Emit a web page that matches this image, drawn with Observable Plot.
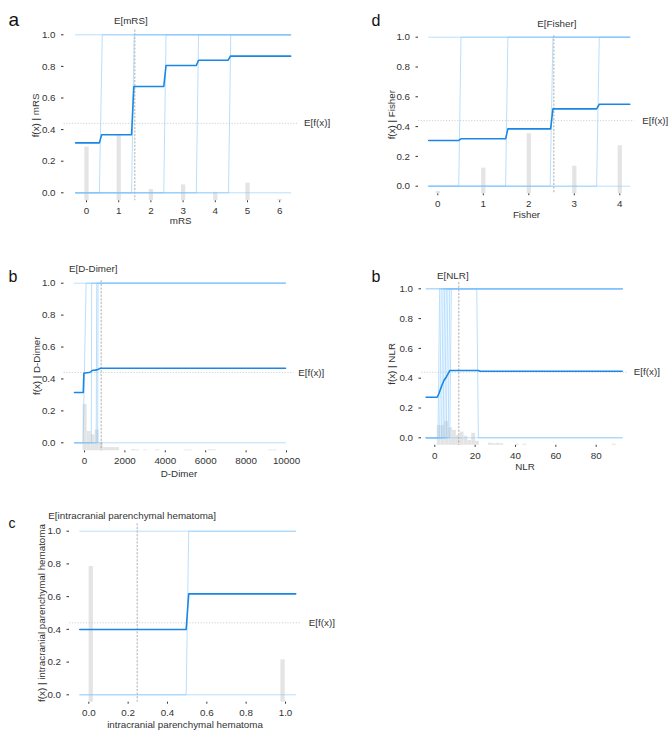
<!DOCTYPE html>
<html><head><meta charset="utf-8">
<script src="https://cdn.jsdelivr.net/npm/d3@7"></script>
<script src="https://cdn.jsdelivr.net/npm/@observablehq/plot@0.6"></script>
<style>
html,body{margin:0;padding:0;background:#fff;}
#root{position:relative;width:669px;height:748px;overflow:hidden;font-family:"Liberation Sans",Arial,sans-serif;}
.panel{position:absolute;}
</style></head><body><div id="root"></div>
<script>
// ---------- shared ----------
const yTicks = [0, 0.2, 0.4, 0.6, 0.8, 1.0];
const expectedValue = 0.44;          // E[f(x)]

// ---------- panel a : mRS ----------
const mrsXTicks = [0, 1, 2, 3, 4, 5, 6];
const mrsPdpX = [-0.34, 0.40, 0.47, 1.40, 1.47, 2.40, 2.47, 3.41, 3.48, 4.40, 4.47, 6.34];
const mrsPdpY = [0.316, 0.316, 0.367, 0.367, 0.673, 0.673, 0.806, 0.806, 0.839, 0.839, 0.865, 0.865];
const mrsIceFrom = [0.40, 1.40, 2.40, 3.41, 4.41];
const mrsIceTo = [0.49, 1.48, 2.47, 3.48, 4.48];
const mrsIceConst = [0, 1];
const mrsHistX = [0, 1, 2, 3, 4, 5, 6];
const mrsHistTop = [0.289, 0.363, 0.021, 0.05, 0.003, 0.061, -0.042];
const mrsMean = 1.5;

// ---------- panel d : Fisher ----------
const fisherXTicks = [0, 1, 2, 3, 4];
const fisherPdpX = [-0.2, 0.46, 0.51, 1.49, 1.54, 2.48, 2.53, 3.49, 3.55, 4.22];
const fisherPdpY = [0.307, 0.307, 0.318, 0.318, 0.385, 0.385, 0.519, 0.519, 0.55, 0.55];
const fisherIceFrom = [0.46, 1.49, 2.47, 3.49];
const fisherIceTo = [0.51, 1.54, 2.53, 3.55];
const fisherIceConst = [0, 1];
const fisherHistX = [0, 1, 2, 3, 4];
const fisherHistTop = [-0.036, 0.121, 0.352, 0.134, 0.271];
const fisherMean = 2.55;

// ---------- panel b (left) : D-Dimer ----------
const ddXTicks = [0, 2000, 4000, 6000, 8000, 10000];
const ddPdpX = [-495, -60, -30, 280, 380, 620, 790, 9950];
const ddPdpY = [0.315, 0.315, 0.436, 0.442, 0.453, 0.457, 0.467, 0.467];
const ddIceFrom = [-69, 335, 580, 650];
const ddIceTo = [79, 355, 605, 670];
const ddIceConst = [0, 1];
const ddHistX1 = [-70, 130, 330, 530, 730, 930, 1130, 1330, 1530, 2330, 2530, 2930, 3530, 4930, 5130, 6130, 6330, 9130, 9330];
const ddHistX2 = [130, 330, 530, 730, 930, 1130, 1330, 1530, 1730, 2530, 2730, 3130, 3730, 5130, 5330, 6330, 6530, 9330, 9530];
const ddHistTop = [0.24, 0.071, 0.05, 0.081, 0.005, -0.03, -0.03, -0.03, -0.03, -0.043, -0.045, -0.045, -0.044, -0.045, -0.045, -0.044, -0.045, -0.045, -0.045];
const ddMean = 826;

// ---------- panel b (right) : NLR ----------
const nlrXTicks = [0, 20, 40, 60, 80];
const nlrPdpX = [-4.3, 1.2, 2.0, 3.3, 4.5, 5.8, 7.5, 21.5, 22.5, 92.9];
const nlrPdpY = [0.272, 0.272, 0.295, 0.344, 0.385, 0.41, 0.452, 0.452, 0.447, 0.447];
const nlrIceFrom = [1.6, 2.4, 3.3, 4.1, 4.9, 5.7, 6.6, 7.4];
const nlrIceTo = [2.4, 3.2, 4.1, 4.9, 5.7, 6.5, 7.4, 8.2];
const nlrIceDownFrom = [20.8];
const nlrIceDownTo = [21.6];
const nlrIceConst = [0, 1];
const nlrHistX1 = [1.2, 3.1, 5.0, 6.9, 8.8, 10.7, 12.6, 14.5, 16.4, 18.3, 20.2, 26.6, 28.5, 30.4, 32.3, 40.0, 43.7, 88.0];
const nlrHistX2 = [3.1, 5.0, 6.9, 8.8, 10.7, 12.6, 14.5, 16.4, 18.3, 20.2, 22.1, 28.5, 30.4, 32.3, 34.2, 41.9, 45.6, 89.9];
const nlrHistTop = [0.083, 0.083, 0.11, 0.067, 0.05, 0.015, 0.038, 0.01, -0.018, 0.03, -0.023, -0.036, -0.04, -0.037, -0.04, -0.043, -0.043, -0.043];
const nlrMean = 11.9;

// ---------- panel c : intracranial parenchymal hematoma ----------
const iphXTicks = [0, 0.2, 0.4, 0.6, 0.8, 1.0];
const iphPdpX = [-0.046, 0.495, 0.508, 1.052];
const iphPdpY = [0.399, 0.399, 0.617, 0.617];
const iphIceFrom = [0.495];
const iphIceTo = [0.508];
const iphIceConst = [0, 1];
const iphHistX = [0.01, 0.985];
const iphHistTop = [0.784, 0.214];
const iphMean = 0.246;

// ---------- drawing ----------
const FONT = '"Liberation Sans", Arial, sans-serif';
const TXT = "#333";
function lin(p, a) { return a[0] + (p - a[1]) * (a[2] - a[0]) / (a[3] - a[1]); }

function buildIce(x0, x1, upFrom, upTo, downFrom, downTo, consts) {
  const out = [];
  upFrom.forEach((f, i) => {
    const id = "u" + i;
    out.push({id, x: x0, y: 0}, {id, x: f, y: 0}, {id, x: upTo[i], y: 1}, {id, x: x1, y: 1});
  });
  (downFrom || []).forEach((f, i) => {
    const id = "d" + i;
    out.push({id, x: x0, y: 1}, {id, x: f, y: 1}, {id, x: downTo[i], y: 0}, {id, x: x1, y: 0});
  });
  consts.forEach((c, i) => {
    const id = "c" + i;
    out.push({id, x: x0, y: c}, {id, x: x1, y: c});
  });
  return out;
}

function drawPanel(c) {
  const {box, xa, fx, ya, fy} = c;
  const xDomain = [lin(fx[0], xa), lin(fx[1], xa)];
  const yDomain = [lin(fy[1], ya), lin(fy[0], ya)];
  const base = yDomain[0];
  const pdp = c.pdpX.map((x, i) => ({x, y: c.pdpY[i]}));
  const ice = buildIce(c.pdpX[0], c.pdpX[c.pdpX.length - 1], c.iceFrom, c.iceTo, c.iceDownFrom, c.iceDownTo, c.iceConst);
  let histMark;
  if (c.histX1) {
    const h = c.histX1.map((x1, i) => ({x1, x2: c.histX2[i], top: c.histTop[i]}));
    histMark = Plot.rect(h, {x1: "x1", x2: "x2", y1: () => base, y2: "top", fill: "#e4e4e4"});
  } else {
    const h = c.histX.map((x, i) => ({x, top: c.histTop[i]}));
    histMark = Plot.ruleX(h, {x: "x", y1: () => base, y2: "top", stroke: "#e4e4e4", strokeWidth: c.barPx});
  }
  const marginLeft = fx[0] - box.left, marginRight = box.left + box.w - fx[1];
  const marginTop = fy[0] - box.top, marginBottom = box.top + box.h - fy[1];
  const svg = Plot.plot({
    width: box.w, height: box.h,
    marginLeft, marginRight, marginTop, marginBottom,
    style: {background: "transparent", fontFamily: FONT, fontSize: "9.8px", color: TXT, overflow: "visible"},
    x: {domain: xDomain, ticks: c.xTicks, tickFormat: c.xFormat, tickSize: 2, tickPadding: 4.5, label: null, line: false},
    y: {domain: yDomain, ticks: yTicks, tickFormat: ".1f", tickSize: 2.5, tickPadding: 6, label: null, line: false},
    marks: [
      histMark,
      Plot.ruleY([expectedValue], {y: d => d, stroke: "#d0d0d0", strokeDasharray: "1.2,1.6", strokeWidth: 1}),
      Plot.ruleX([c.mean], {x: d => d, stroke: "#9a9a9a", strokeDasharray: "2.2,1.4", strokeWidth: 0.8}),
      Plot.line(ice, {x: "x", y: "y", z: "id", stroke: "#7FC4FC", strokeOpacity: 0.55, strokeWidth: 1}),
      Plot.line(pdp, {x: "x", y: "y", stroke: "#1a87e6", strokeWidth: 1.6}),
      Plot.text([{v: c.mean, t: "E[" + c.name + "]"}], {x: "v", text: "t", frameAnchor: "top", dx: c.meanLabelDx, dy: c.meanLabelY - fy[0], lineAnchor: "middle", fill: TXT}),
      Plot.text([{v: expectedValue, t: "E[f(x)]"}], {y: "v", text: "t", frameAnchor: "right", textAnchor: "start", dx: c.expLabelX - fx[1], lineAnchor: "middle", fill: TXT}),
      Plot.text([c.name], {frameAnchor: "bottom", dy: c.xLabelY - fy[1], lineAnchor: "middle", fill: TXT}),
      Plot.text(["f(x) | " + c.name], {frameAnchor: "left", rotate: -90, dx: c.yLabelX - fx[0], lineAnchor: "middle", textAnchor: "middle", fill: TXT}),
      Plot.text([c.letter.t], {frameAnchor: "top-left", dx: c.letter.x - fx[0], dy: c.letter.y - fy[0], textAnchor: "start", lineAnchor: "bottom", fontSize: c.letter.size, fill: "#111"})
    ]
  });
  const div = document.createElement("div");
  div.className = "panel";
  div.style.left = box.left + "px";
  div.style.top = box.top + "px";
  div.appendChild(svg);
  document.getElementById("root").appendChild(div);
}

drawPanel({
  name: "mRS", box: {left: 0, top: 0, w: 335, h: 235},
  xa: [0, 86, 6, 279.2], fx: [63.5, 297], ya: [0, 192.3, 1, 34.3], fy: [29.6, 200.2],
  xTicks: mrsXTicks, xFormat: "d",
  pdpX: mrsPdpX, pdpY: mrsPdpY, iceFrom: mrsIceFrom, iceTo: mrsIceTo, iceConst: mrsIceConst,
  histX: mrsHistX, histTop: mrsHistTop, barPx: 4.3, mean: mrsMean,
  meanLabelY: 20, meanLabelDx: -4, xLabelY: 220.5, yLabelX: 35, expLabelX: 303.5,
  letter: {t: "a", x: 8, y: 25, size: 19}
});
drawPanel({
  name: "Fisher", box: {left: 335, top: 0, w: 334, h: 235},
  xa: [0, 437.3, 4, 619.3], fx: [418, 634], ya: [0, 185.7, 1, 36.7], fy: [35.2, 193.2],
  xTicks: fisherXTicks, xFormat: "d",
  pdpX: fisherPdpX, pdpY: fisherPdpY, iceFrom: fisherIceFrom, iceTo: fisherIceTo, iceConst: fisherIceConst,
  histX: fisherHistX, histTop: fisherHistTop, barPx: 4.3, mean: fisherMean,
  meanLabelY: 23.3, meanLabelDx: 3, xLabelY: 214, yLabelX: 391.7, expLabelX: 641.7,
  letter: {t: "d", x: 371, y: 25, size: 16}
});
drawPanel({
  name: "D-Dimer", box: {left: 0, top: 235, w: 335, h: 245},
  xa: [0, 84, 10000, 286], fx: [63.5, 293.5], ya: [0, 442.3, 1, 282.7], fy: [280.3, 450.3],
  xTicks: ddXTicks, xFormat: "d",
  pdpX: ddPdpX, pdpY: ddPdpY, iceFrom: ddIceFrom, iceTo: ddIceTo, iceConst: ddIceConst,
  histX1: ddHistX1, histX2: ddHistX2, histTop: ddHistTop, mean: ddMean,
  meanLabelY: 268, meanLabelDx: -8, xLabelY: 473, yLabelX: 36, expLabelX: 297.7,
  letter: {t: "b", x: 8, y: 281.7, size: 16}
});
drawPanel({
  name: "NLR", box: {left: 335, top: 235, w: 334, h: 245},
  xa: [0, 434.3, 80, 595.7], fx: [421, 628], ya: [0, 437.3, 1, 288.3], fy: [282, 444.8],
  xTicks: nlrXTicks, xFormat: "d",
  pdpX: nlrPdpX, pdpY: nlrPdpY, iceFrom: nlrIceFrom, iceTo: nlrIceTo,
  iceDownFrom: nlrIceDownFrom, iceDownTo: nlrIceDownTo, iceConst: nlrIceConst,
  histX1: nlrHistX1, histX2: nlrHistX2, histTop: nlrHistTop, mean: nlrMean,
  meanLabelY: 275, meanLabelDx: -6, xLabelY: 466, yLabelX: 391.7, expLabelX: 633.3,
  letter: {t: "b", x: 371, y: 281.7, size: 16}
});
drawPanel({
  name: "intracranial parenchymal hematoma", box: {left: 0, top: 480, w: 345, h: 268},
  xa: [0, 88.3, 1, 285], fx: [69, 300], ya: [0, 694.3, 1, 530.7], fy: [523.3, 701.7],
  xTicks: iphXTicks, xFormat: ".1f",
  pdpX: iphPdpX, pdpY: iphPdpY, iceFrom: iphIceFrom, iceTo: iphIceTo, iceConst: iphIceConst,
  histX: iphHistX, histTop: iphHistTop, barPx: 4.3, mean: iphMean,
  meanLabelY: 515.7, meanLabelDx: -5, xLabelY: 724.5, yLabelX: 41.7, expLabelX: 308.3,
  letter: {t: "c", x: 8, y: 527.3, size: 14}
});
</script></body></html>
